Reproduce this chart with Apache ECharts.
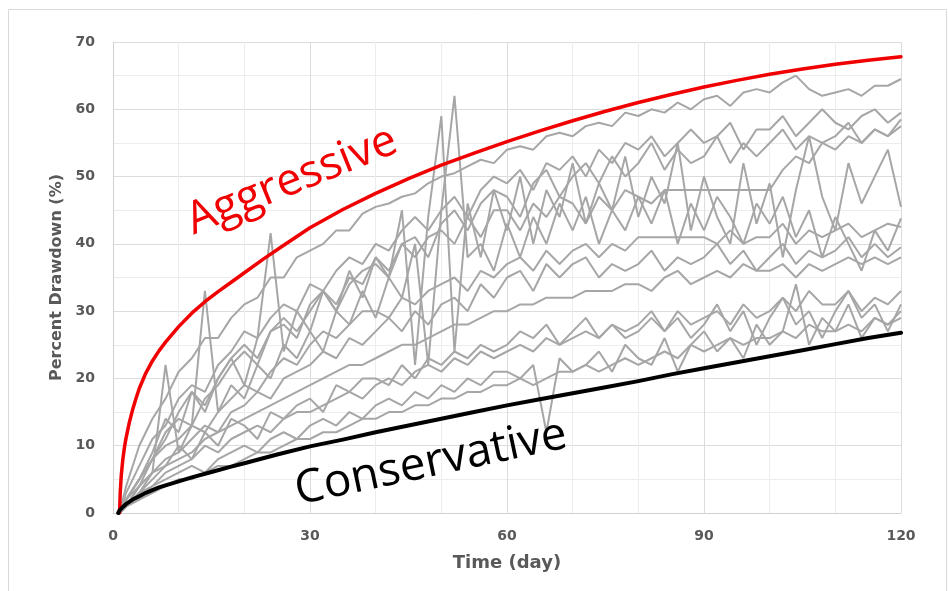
<!DOCTYPE html>
<html><head><meta charset="utf-8">
<script src="https://cdn.jsdelivr.net/npm/echarts@6/dist/echarts.min.js"></script>
<style>html,body{margin:0;padding:0;background:#fff}#c{width:948px;height:591px}</style>
</head><body><div id="c"></div>
<script>
// shared day axis for the gray drawdown curves
const days = [1,2,4,6,8,10,12,14,16,18,20,22,24,26,28,30,32,34,36,38,40,42,44,46,48,50,52,54,56,58,60,62,64,66,68,70,72,74,76,78,80,82,84,86,88,90,92,94,96,98,100,102,104,106,108,110,112,114,116,118,120];

const s1 = [0,4,10,14,17,21,23,26,26,29,31,32,35,35,38,39,40,42,42,44.5,45.5,46,47,47.5,49,50,50.5,51.5,52.5,52,54,54.5,54,56,56.5,56,57.5,58,57.5,59.5,59,60,59.5,61,60,61.5,62,60.5,62.5,63,62.5,64,65,63,62,62.5,63,62,63.5,63.5,64.5];
const s2 = [0,3,7,11,13,17,19,18,22,24,27,26,29,31,30,34,33,36,38,37,40,39,42,44,42,45,47,44,48,50,49,51,48,52,51,53,50,54,52,55,54,56,53,55,57,55,56,58,54,57,57,59,56,58,60,58,57,59,60,58,59.5];
const s3 = [0,2,5,8,12,14,13,17,19,22,24,22,27,28,26,31,33,30,34,36,37,35,40,41,38,43,45,42,46,48,47,44,49,51,47,50,52,49,53,50,52,55,51,54,52,53,56,52,55,53,55,57,54,56,55,56,58,55,57,56,57.5];
const s4 = [0,1,4,8,11,15,18,16,20,23,25,23,27,29,27,30,33,31,35,34,38,36,40,38,41,42,40,44,41,45,45,42,46,44,47,46,43,47,45,48,47,46,48,48,48,48,48,48,48,48,48,51,53,52,55,54,56,55,57,56,58.5];
const s5 = [0,2,5,9,14,12,18,15,20,23,19,26,41.6,24,30,27,33,30,36,32,38,35,45,22,44,59,24,46,38,48,42,50,40,48,44,52,43,49,45,53,44,50,46,55,42,50,44,40,52,43,49,38,48,56,47,42,52,46,50,54,45.5];
const s6 = [0,1,3,6,22,9,13,33,15,19,17,22,20,25,23,27,24,30,28,33,29,35,32,40,22,45,62,38,40,36,43,38,44,40,46,42,47,40,45,42,47,43,48,40,46,42,47,44,40,46,43,47,41,45,38,44,40,36,42,39,43.8];
const s7 = [0,2,5,8,10,11,13,12,15,17,19,18,21,23,22,25,27,26,28,30,30,29,32,31,33,34,35,33,36,35,37,38,36,39,37,39,40,38,40,39,41,41,41,41,41,41,40,42,40,41,41,43,40,42,41,42,43,41,42,43,42.5];
const s8 = [0,1,4,6,8,9,11,13,12,15,16,18,17,20,21,22,24,23,26,25,27,29,27,30,28,31,32,30,34,32,35,36,33,37,35,37,38,35,37,36,37,39,36,38,37,38,40,37,39,36,38,40,37,39,38,39,41,38,40,38,39.5];
const s9 = [0,1,3,5,7,8,9,11,12,13,14,15,16,17,18,19,20,21,22,22,23,24,25,25,26,27,28,28,29,30,30,31,31,32,32,32,33,33,33,34,34,33,35,36,34,35,36,35,37,36,36,37,35,37,36,37,38,37,38,37,38];
const s10 = [0,1,3,4,6,7,8,10,9,11,12,13,12,14,15,15,16,17,18,17,19,20,19,21,22,21,23,22,24,23,24,25,24,26,25,26,27,26,28,26,27,29,27,30,28,29,30,28,31,29,30,32,30,33,31,31,33,30,32,31,33];
const s11 = [0,1,2,4,5,6,7,6,8,9,10,9,11,12,11,13,14,13,15,14,16,17,16,18,17,19,18,20,19,21,21,20,22,12,23,21,22,24,21,25,23,22,26,21,25,27,24,26,23,28,25,27,34,25,29,27,31,26,29,28,30];
const s12 = [0,1,2,3,4,5,5,6,7,7,8,9,9,10,11,11,12,12,13,14,14,15,15,16,16,17,17,18,18,19,19,20,19,20,21,21,22,21,22,23,22,23,24,23,25,24,25,26,25,26,26,27,26,28,27,27,28,27,29,28,29];
const s13 = [0,2,4,6,7,10,8,12,10,14,13,11,15,14,16,17,15,19,18,20,20,19,22,20,23,22,24,23,25,24,25,27,26,28,25,27,29,26,28,27,28,30,27,29,26,28,31,27,30,25,29,32,28,30,26,30,33,29,31,27,31];

// bounding curves
const aggDays = [1,1.1,1.25,1.5,1.75,2,2.5,3,3.5,4,5,6,7,8,10,12,14,16,18,20,23,26,30,35,40,45,50,55,60,65,70,75,80,85,90,95,100,105,110,115,120];
const aggVals = [0,3,5.5,8,9.8,11.2,13.5,15.4,17,18.5,20.8,22.6,24.1,25.4,27.7,29.7,31.4,32.9,34.3,35.7,37.8,39.8,42.4,45.1,47.5,49.7,51.7,53.5,55.2,56.8,58.3,59.7,61,62.2,63.3,64.3,65.2,66,66.7,67.3,67.8];
const conDays = [0.8,1,1.5,2,3,4,5,6,7,8,10,12,15,18,20,25,30,35,40,45,50,55,60,65,70,75,80,85,90,95,100,105,110,115,120];
const conVals = [0,0.4,0.9,1.35,2,2.5,3,3.4,3.8,4.1,4.7,5.3,6.1,6.9,7.4,8.7,9.9,10.9,12,13,14,15,16,16.9,17.8,18.7,19.6,20.6,21.5,22.4,23.3,24.2,25.1,26,26.8];

const xTicks = [0,30,60,90,120];
const yTicks = [0,10,20,30,40,50,60,70];

const grays = [s1,s2,s3,s4,s5,s6,s7,s8,s9,s10,s11,s12,s13];
const series = grays.map(v => ({
  type:'line', data: days.map((d,i)=>[d,v[i]]), showSymbol:false, silent:true, z:2,
  lineStyle:{color:'#a6a6a6', width:2}
}));
series.push({type:'line', data: aggDays.map((d,i)=>[d,aggVals[i]]),
  showSymbol:false, silent:true, z:5, lineStyle:{color:'#f00000', width:3.5, join:'round', cap:'round'}});
series.push({type:'line', data: conDays.map((d,i)=>[d,conVals[i]]),
  showSymbol:false, silent:true, z:5, lineStyle:{color:'#000000', width:4, join:'round', cap:'round'}});

const labelStyle = {color:'#595959', fontWeight:'bold', fontSize:14, fontFamily:'DejaVu Sans'};
const chart = echarts.init(document.getElementById('c'), null, {renderer:'canvas'});
chart.setOption({
  animation:false,
  backgroundColor:'#ffffff',
  grid:{left:113, right:47, top:42, bottom:78, containLabel:false},
  xAxis:{type:'value', min:xTicks[0], max:xTicks[xTicks.length-1], interval:30,
    axisLine:{show:true, onZero:false, lineStyle:{color:'#d0d0d0', width:1}},
    axisTick:{show:false},
    axisLabel:Object.assign({margin:16}, labelStyle),
    splitLine:{show:true, lineStyle:{color:'#dcdcdc', width:1}},
    minorTick:{show:false, splitNumber:3},
    minorSplitLine:{show:true, lineStyle:{color:'#ededed', width:1}},
    name:'Time (day)', nameLocation:'middle', nameGap:41,
    nameTextStyle:{color:'#595959', fontWeight:'bold', fontSize:18, fontFamily:'DejaVu Sans'}},
  yAxis:{type:'value', min:yTicks[0], max:yTicks[yTicks.length-1], interval:10,
    axisLine:{show:true, onZero:false, lineStyle:{color:'#d0d0d0', width:1}},
    axisTick:{show:false},
    axisLabel:Object.assign({margin:18}, labelStyle),
    splitLine:{show:true, lineStyle:{color:'#dcdcdc', width:1}},
    minorTick:{show:false, splitNumber:2},
    minorSplitLine:{show:true, lineStyle:{color:'#ededed', width:1}},
    name:'Percent Drawdown (%)', nameLocation:'middle', nameGap:48,
    nameTextStyle:{color:'#595959', fontWeight:'bold', fontSize:16, fontFamily:'DejaVu Sans'}},
  graphic:[
    {type:'rect', silent:true, z:-10, shape:{x:8.5, y:9.5, width:938, height:620},
      style:{fill:'none', stroke:'#d9d9d9', lineWidth:1}},
    {type:'text', silent:true, z:20, x:292, y:181, rotation:22*Math.PI/180,
      style:{text:'Aggressive', fill:'#f00000', font:'45px "Open Sans"', fontSize:45, fontFamily:'Open Sans',
        align:'center', verticalAlign:'middle', textAlign:'center', textVerticalAlign:'middle'}},
    {type:'text', silent:true, z:20, x:431, y:463, rotation:12*Math.PI/180,
      style:{text:'Conservative', fill:'#000000', font:'46px "Open Sans"', fontSize:46, fontFamily:'Open Sans',
        align:'center', verticalAlign:'middle', textAlign:'center', textVerticalAlign:'middle'}}
  ],
  series:series
});
</script></body></html>
